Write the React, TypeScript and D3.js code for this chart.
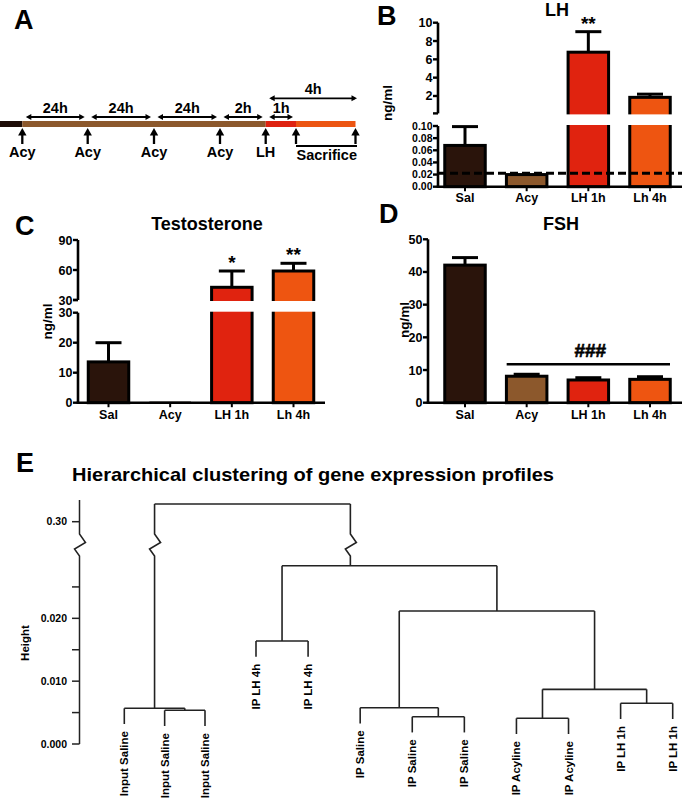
import React from "react";
import * as d3 from "d3";

const FONT = "'Liberation Sans', Arial, Helvetica, sans-serif";

// ---------------- Panel A: treatment timeline (hours) ----------------
const timeKnots = [-8.3, 0, 24, 48, 72, 74, 75, 78];
const segStart = [-8.3, 0, 74, 75];
const segEnd = [0, 74, 75, 78];
const eventTimes = [0, 24, 48, 72, 74, 75, 78];
const eventLabels = ["Acy", "Acy", "Acy", "Acy", "LH", "", ""];
const sacrificeTimes = [75, 78];
const intervalFrom = [0, 24, 48, 72, 74, 74];
const intervalTo = [24, 48, 72, 74, 75, 78];
const intervalLabels = ["24h", "24h", "24h", "2h", "1h", "4h"];
const intervalLevel = [0, 0, 0, 0, 0, 1];

// ---------------- Panels B, C, D: hormone levels ----------------
const categories = ["Sal", "Acy", "LH 1h", "Lh 4h"];

const lhMeans = [0.068, 0.02, 6.78, 1.85];
const lhErrors = [0.031, 0, 2.24, 0.35];
const lhStars = ["", "", "**", ""];
const lhDetectionLimit = 0.022;
const lhLowerTicks = [0, 0.02, 0.04, 0.06, 0.08, 0.1];
const lhUpperTicks = [2, 4, 6, 8, 10];

const testoMeans = [13.6, 0.3, 42.7, 59];
const testoErrors = [6.4, 0, 16.3, 7.7];
const testoStars = ["", "", "*", "**"];
const testoLowerTicks = [0, 10, 20, 30];
const testoUpperTicks = [30, 60, 90];

const fshMeans = [42.1, 8.1, 6.95, 7.15];
const fshErrors = [2.3, 0.6, 0.7, 0.8];
const fshStars = ["", "", "", ""];
const fshTicks = [0, 10, 20, 30, 40, 50];
const fshSigFrom = "Acy";
const fshSigTo = "Lh 4h";
const fshSigLevel = 11.75;
const fshSigLabel = "###";

// ---------------- Panel E: dendrogram ----------------
const leafLabels = [
  "Input Saline", "Input Saline", "Input Saline",
  "IP LH 4h", "IP LH 4h",
  "IP Saline", "IP Saline", "IP Saline",
  "IP Acyline", "IP Acyline",
  "IP LH 1h", "IP LH 1h",
];
// hclust-style merges: negative = leaf (1-based), positive = earlier merge (1-based)
const mergeLeft = [-9, -7, -2, -1, -6, -11, 1, -4, 5, 8, 4];
const mergeRight = [-10, -8, -3, 3, 2, -12, 6, -5, 7, 9, 10];
const mergeHeights = [0.00409, 0.00434, 0.00536, 0.00568, 0.00578, 0.00648, 0.0087, 0.01639, 0.02116, 0.02837, 0.32];
const mergeJoin = [0.5, 0.5, 0.5, 0.5, 0.5, 0.5, 0.5, 0.5, 0.5, 0.318, 0.5];
const dendroLowerTicks = [0, 0.005, 0.01, 0.015, 0.02, 0.025];
const dendroLabeledTicks = [0, 0.01, 0.02];
const dendroUpperTicks = [0.3];
const dendroHang = 0.0025;

const timelineColors = ["#1e0d07", "#8c582c", "#de2210", "#ec5512"];
const barColors = ["#2a140b", "#8c582c", "#e0230f", "#ee5511"];

function PanelA() {
  const x = d3
    .scaleLinear()
    .domain(timeKnots)
    .range([0, 22.3, 87.7, 154, 220, 265.7, 296, 355.5]);
  const barY = 121;
  const barH = 6;
  const arrowBase = 144;
  const arrowTip = 128;
  const levelY = [117, 98.3];
  return (
    <g>
      <text x={14} y={29.3} fontSize={27} fontWeight="bold">A</text>
      {segStart.map((s, i) => (
        <rect key={i} x={x(s)} y={barY} width={x(segEnd[i]) - x(s)} height={barH} fill={timelineColors[i]} />
      ))}
      {eventTimes.map((t, i) => (
        <g key={i}>
          <line x1={x(t)} x2={x(t)} y1={arrowBase} y2={arrowTip + 5} stroke="#000" strokeWidth={2.3} />
          <path d={`M${x(t)},${arrowTip} l4.2,7.5 h-8.4 z`} fill="#000" />
          {eventLabels[i] && (
            <text x={x(t)} y={157} textAnchor="middle" fontSize={14.5} fontWeight="bold">{eventLabels[i]}</text>
          )}
        </g>
      ))}
      <line x1={x(sacrificeTimes[0])} x2={x(sacrificeTimes[1]) + 1.5} y1={146} y2={146} stroke="#000" strokeWidth={2} />
      <text x={(x(sacrificeTimes[0]) + x(sacrificeTimes[1])) / 2 + 1} y={160} textAnchor="middle" fontSize={14.5} fontWeight="bold">Sacrifice</text>
      {intervalFrom.map((f, i) => {
        const x1 = x(f) + 3.5;
        const x2 = intervalLevel[i] === 1 ? x(intervalTo[i]) + 1.5 : x(intervalTo[i]) - 3;
        const y = levelY[intervalLevel[i]];
        return (
          <g key={i}>
            <line x1={x1 + 2} x2={x2 - 2} y1={y} y2={y} stroke="#000" strokeWidth={1.8} />
            <path d={`M${x1},${y} l5.5,-3 v6 z`} fill="#000" />
            <path d={`M${x2},${y} l-5.5,-3 v6 z`} fill="#000" />
            <text x={(x1 + x2) / 2} y={y - 4.3} textAnchor="middle" fontSize={14.5} fontWeight="bold">{intervalLabels[i]}</text>
          </g>
        );
      })}
    </g>
  );
}

type BarPanelProps = {
  letter: string;
  letterX: number;
  letterY: number;
  title: string;
  titleX: number;
  titleY: number;
  means: number[];
  errs: number[];
  stars: string[];
  centers: [number, number];
  axisX: number;
  axisRight: number;
  lower: d3.ScaleLinear<number, number>;
  lowerTicks: number[];
  lowerFmt: (v: number) => string;
  lowerTickFont?: number;
  upper?: d3.ScaleLinear<number, number>;
  upperTicks?: number[];
  upperFmt?: (v: number) => string;
  upperMin?: number;
  ylabelX: number;
  ylabelY: number;
  catY: number;
  children?: (xc: d3.ScalePoint<string>, yOf: (v: number) => number) => React.ReactNode;
};

function BarPanel(p: BarPanelProps) {
  const xc = d3.scalePoint<string>().domain(categories).range(p.centers);
  const bw = 40.5;
  const lowerMax = p.lower.domain()[1];
  const yOf = (v: number) => (p.upper && v > lowerMax ? p.upper(v) : p.lower(v));
  const y0 = p.lower(0);
  const axisW = 2.6;
  const lowFont = p.lowerTickFont ?? 12.5;
  return (
    <g>
      <text x={p.letterX} y={p.letterY} fontSize={27} fontWeight="bold">{p.letter}</text>
      <text x={p.titleX} y={p.titleY} textAnchor="middle" fontSize={18} fontWeight="bold">{p.title}</text>
      <text
        transform={`translate(${p.ylabelX},${p.ylabelY}) rotate(-90)`}
        textAnchor="middle"
        dy="0.35em"
        fontSize={13.5}
        fontWeight="bold"
      >
        ng/ml
      </text>
      {/* bars */}
      {categories.map((c, i) => {
        const top = yOf(p.means[i]);
        const h = y0 - top;
        const tiny = h < 2;
        return (
          <rect
            key={c}
            x={(xc(c) as number) - bw / 2}
            y={top}
            width={bw}
            height={Math.max(h, 0.5)}
            fill={barColors[i]}
            stroke={tiny ? "#8a8a8a" : "#000"}
            strokeWidth={tiny ? 1.2 : 3}
          />
        );
      })}
      {/* error bars */}
      {categories.map((c, i) => {
        if (!p.errs[i]) return null;
        const cx = xc(c) as number;
        const yt = yOf(p.means[i] + p.errs[i]);
        return (
          <g key={c} stroke="#000" strokeWidth={3}>
            <line x1={cx} x2={cx} y1={yOf(p.means[i])} y2={yt} />
            <line x1={cx - 13} x2={cx + 13} y1={yt} y2={yt} />
          </g>
        );
      })}
      {/* stars */}
      {categories.map((c, i) =>
        p.stars[i] ? (
          <text key={c} x={xc(c) as number} y={yOf(p.means[i] + p.errs[i]) - 2} textAnchor="middle" fontSize={19} fontWeight="bold">
            {p.stars[i]}
          </text>
        ) : null
      )}
      {/* axis break gap */}
      {p.upper && p.upperMin !== undefined && (
        <rect
          x={p.axisX + 2}
          width={p.axisRight - p.axisX}
          y={p.upper(p.upperMin) + 1}
          height={p.lower(lowerMax) - 1 - (p.upper(p.upperMin) + 1)}
          fill="#fff"
        />
      )}
      {p.children && p.children(xc, yOf)}
      {/* lower y axis */}
      <line x1={p.axisX} x2={p.axisX} y1={y0 + axisW / 2} y2={p.lower(lowerMax)} stroke="#000" strokeWidth={axisW} />
      {p.lowerTicks.map((t) => (
        <g key={"l" + t}>
          <line x1={p.axisX - 5} x2={p.axisX} y1={p.lower(t)} y2={p.lower(t)} stroke="#000" strokeWidth={2.4} />
          <text x={p.axisX - 5.5} y={p.lower(t)} dy="0.36em" textAnchor="end" fontSize={lowFont} fontWeight="bold">
            {p.lowerFmt(t)}
          </text>
        </g>
      ))}
      {/* upper y axis */}
      {p.upper && p.upperTicks && p.upperMin !== undefined && (
        <g>
          <line
            x1={p.axisX}
            x2={p.axisX}
            y1={p.upper(p.upperMin)}
            y2={p.upper(d3.max(p.upperTicks) as number)}
            stroke="#000"
            strokeWidth={axisW}
          />
          <line x1={p.axisX - 5} x2={p.axisX} y1={p.upper(p.upperMin)} y2={p.upper(p.upperMin)} stroke="#000" strokeWidth={2.4} />
          {p.upperTicks.map((t) => (
            <g key={"u" + t}>
              <line x1={p.axisX - 5} x2={p.axisX} y1={p.upper!(t)} y2={p.upper!(t)} stroke="#000" strokeWidth={2.4} />
              <text x={p.axisX - 5.5} y={p.upper!(t)} dy="0.36em" textAnchor="end" fontSize={12.5} fontWeight="bold">
                {p.upperFmt!(t)}
              </text>
            </g>
          ))}
        </g>
      )}
      {/* x axis */}
      <line x1={p.axisX - axisW / 2} x2={p.axisRight} y1={y0} y2={y0} stroke="#000" strokeWidth={axisW} />
      {categories.map((c) => (
        <g key={c}>
          <line x1={xc(c) as number} x2={xc(c) as number} y1={y0} y2={y0 + 4.5} stroke="#000" strokeWidth={2} />
          <text x={xc(c) as number} y={p.catY} textAnchor="middle" fontSize={12.5} fontWeight="bold">
            {c}
          </text>
        </g>
      ))}
    </g>
  );
}

function PanelB() {
  const lower = d3.scaleLinear().domain([0, 0.1]).range([186.7, 126]);
  const upper = d3.scaleLinear().domain([0, 10]).range([114.3, 22.7]);
  return (
    <BarPanel
      letter="B" letterX={377} letterY={25}
      title="LH" titleX={557} titleY={15.5}
      means={lhMeans} errs={lhErrors} stars={lhStars}
      centers={[465, 650]} axisX={438} axisRight={682}
      lower={lower} lowerTicks={lhLowerTicks} lowerFmt={d3.format(".2f")} lowerTickFont={10.5}
      upper={upper} upperTicks={lhUpperTicks} upperFmt={d3.format("d")} upperMin={0.1}
      ylabelX={387.5} ylabelY={103} catY={202}
    >
      {() => (
        <line
          x1={438} x2={682}
          y1={lower(lhDetectionLimit)} y2={lower(lhDetectionLimit)}
          stroke="#000" strokeWidth={3} strokeDasharray="8,4"
        />
      )}
    </BarPanel>
  );
}

function PanelC() {
  const lower = d3.scaleLinear().domain([0, 30]).range([402.7, 312.7]);
  const upper = d3.scaleLinear().domain([30, 90]).range([300, 240]);
  return (
    <BarPanel
      letter="C" letterX={15} letterY={235}
      title="Testosterone" titleX={207} titleY={230}
      means={testoMeans} errs={testoErrors} stars={testoStars}
      centers={[108.5, 293.5]} axisX={78} axisRight={325}
      lower={lower} lowerTicks={testoLowerTicks} lowerFmt={d3.format("d")}
      upper={upper} upperTicks={testoUpperTicks} upperFmt={d3.format("d")} upperMin={30}
      ylabelX={47} ylabelY={321.5} catY={418.5}
    />
  );
}

function PanelD() {
  const lower = d3.scaleLinear().domain([0, 50]).range([402.7, 239.3]);
  return (
    <BarPanel
      letter="D" letterX={379} letterY={223.3}
      title="FSH" titleX={561} titleY={230}
      means={fshMeans} errs={fshErrors} stars={fshStars}
      centers={[465, 650]} axisX={428} axisRight={682}
      lower={lower} lowerTicks={fshTicks} lowerFmt={d3.format("d")}
      ylabelX={404.5} ylabelY={320} catY={418.5}
    >
      {(xc) => {
        const x1 = (xc(fshSigFrom) as number) - 20;
        const x2 = (xc(fshSigTo) as number) + 20;
        const y = lower(fshSigLevel);
        return (
          <g>
            <line x1={x1} x2={x2} y1={y} y2={y} stroke="#000" strokeWidth={2.6} />
            <text x={(x1 + x2) / 2 + 2} y={y - 7.5} textAnchor="middle" fontSize={19} fontWeight="bold" stroke="#000" strokeWidth={0.6}>
              {fshSigLabel}
            </text>
          </g>
        );
      }}
    </BarPanel>
  );
}

function PanelE() {
  const n = leafLabels.length;
  const leafX = d3.scaleLinear().domain([0, 2, 3, n - 1]).range([124.3, 205, 256, 672.7]);
  const yLow = d3.scaleLinear().domain([0, 0.03]).range([744, 555.5]);
  const yUp = d3.scaleLinear().domain([0.3, 0.32]).range([521.7, 504]);
  const breakAt = 0.1;
  const yOf = (v: number) => (v > breakAt ? yUp(v) : yLow(v));
  const zigTop = 534;
  const zig = (x: number) => `V${zigTop} L${x + 6},${zigTop + 8.5} L${x - 5},${zigTop + 15} L${x},${zigTop + 22}`;

  const nodeX: number[] = [];
  const childX = (c: number) => (c < 0 ? leafX(-c - 1) : nodeX[c - 1]);
  mergeLeft.forEach((l, i) => {
    const a = childX(l);
    const b = childX(mergeRight[i]);
    nodeX.push(a + (b - a) * mergeJoin[i]);
  });

  const paths: string[] = [];
  const leafEnds: { x: number; y: number; label: string }[] = [];
  mergeLeft.forEach((l, i) => {
    const h = mergeHeights[i];
    const yp = yOf(h);
    [l, mergeRight[i]].forEach((c) => {
      const cx = childX(c);
      let yc: number;
      if (c < 0) {
        yc = yOf(h - dendroHang);
        leafEnds.push({ x: cx, y: yc, label: leafLabels[-c - 1] });
      } else {
        yc = yOf(mergeHeights[c - 1]);
      }
      const crosses = h > breakAt && (c < 0 ? h - dendroHang : mergeHeights[c - 1]) <= breakAt;
      paths.push(`M${cx},${yp} ${crosses ? zig(cx) : ""} V${yc}`);
    });
    paths.push(`M${childX(l)},${yp} H${childX(mergeRight[i])}`);
  });

  const axisX = 79.5;
  return (
    <g>
      <text x={16} y={472} fontSize={27} fontWeight="bold">E</text>
      <text x={72} y={481} fontSize={18.5} fontWeight="bold" textLength={482} lengthAdjust="spacingAndGlyphs">
        Hierarchical clustering of gene expression profiles
      </text>
      <text
        transform={`translate(24.7,643) rotate(-90)`}
        textAnchor="middle"
        dy="0.35em"
        fontSize={11.5}
        fontWeight="bold"
      >
        Height
      </text>
      {/* axis */}
      <path d={`M${axisX},${yUp(0.3245)} ${zig(axisX)} V${yLow(0)}`} fill="none" stroke="#222" strokeWidth={1.5} />
      {dendroLowerTicks.map((t) => (
        <g key={t}>
          <line x1={axisX - 7.5} x2={axisX} y1={yLow(t)} y2={yLow(t)} stroke="#222" strokeWidth={1.5} />
          {dendroLabeledTicks.includes(t) && (
            <text x={axisX - 12.5} y={yLow(t)} dy="0.36em" textAnchor="end" fontSize={10.5} fontWeight="bold">
              {d3.format(".3f")(t)}
            </text>
          )}
        </g>
      ))}
      {dendroUpperTicks.map((t) => (
        <g key={t}>
          <line x1={axisX - 7.5} x2={axisX} y1={yUp(t)} y2={yUp(t)} stroke="#222" strokeWidth={1.5} />
          <text x={axisX - 12.5} y={yUp(t)} dy="0.36em" textAnchor="end" fontSize={10.5} fontWeight="bold">
            {d3.format(".2f")(t)}
          </text>
        </g>
      ))}
      {paths.map((d, i) => (
        <path key={i} d={d} fill="none" stroke="#222" strokeWidth={1.6} />
      ))}
      {leafEnds.map((l, i) => (
        <text
          key={i}
          transform={`translate(${l.x},${l.y + 7}) rotate(-90)`}
          textAnchor="end"
          dy="0.35em"
          fontSize={11.5}
          fontWeight="bold"
        >
          {l.label}
        </text>
      ))}
    </g>
  );
}

export default function App() {
  return (
    <svg
      width={683}
      height={804}
      viewBox="0 0 683 804"
      style={{ position: "absolute", left: 0, top: 0, background: "#fff" }}
      fontFamily={FONT}
    >
      <rect width={683} height={804} fill="#fff" />
      <PanelA />
      <PanelB />
      <PanelC />
      <PanelD />
      <PanelE />
    </svg>
  );
}
